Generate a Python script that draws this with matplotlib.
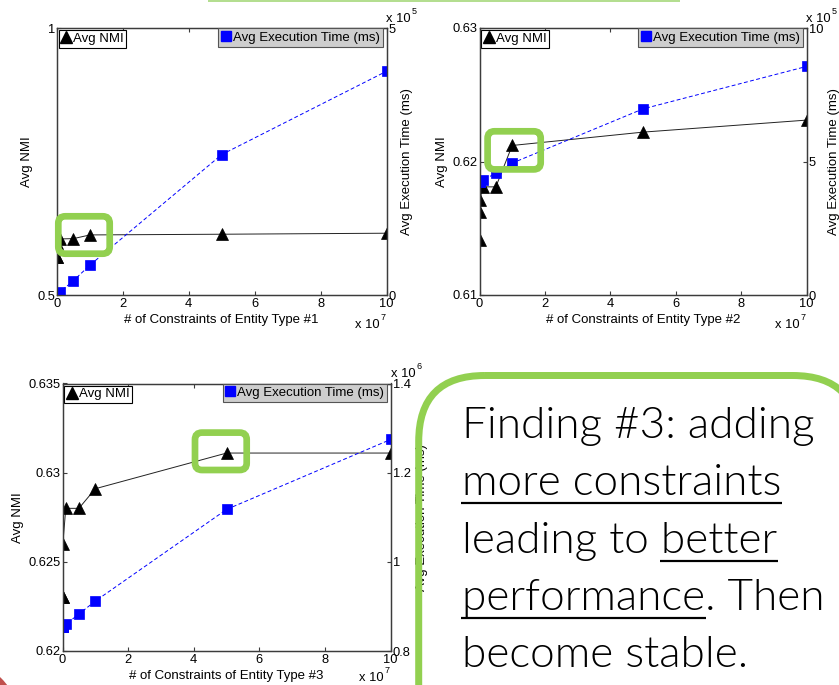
import matplotlib
matplotlib.use("Agg")
import matplotlib.pyplot as plt
from matplotlib.lines import Line2D
from matplotlib.patches import FancyBboxPatch, Rectangle, Circle

W, H, DPI = 839, 685, 100

# number of constraints used in every experiment
constraints = [1e3, 1e4, 1e5, 1e6, 5e6, 1e7, 5e7, 1e8]

nmi_type1 = [0.5707, 0.5707, 0.597, 0.605, 0.6056, 0.6125, 0.6138, 0.6157]
time_type1 = [3e3, 3e3, 3e3, 6e3, 2.7e4, 5.6e4, 2.63e5, 4.19e5]

nmi_type2 = [0.6141, 0.6162, 0.6171, 0.6181, 0.6181, 0.6212, 0.6222, 0.6231]
time_type2 = [4.22e5, 4.25e5, 4.27e5, 4.30e5, 4.56e5, 4.94e5, 6.97e5, 8.56e5]

nmi_type3 = [0.6230, 0.6230, 0.6260, 0.6280, 0.6280, 0.6291, 0.6311, 0.6311]
time_type3 = [0.8545e6, 0.8545e6, 0.8545e6, 0.8598e6, 0.8829e6, 0.912e6, 1.1176e6, 1.2745e6]

x_ticks = [0, 2e7, 4e7, 6e7, 8e7, 1e8]
x_tick_labels = ["0", "2", "4", "6", "8", "10"]

nmi_ticks = [[0.5, 1.0], [0.61, 0.62, 0.63], [0.62, 0.625, 0.63, 0.635]]
nmi_tick_labels = [["0.5", "1"], ["0.61", "0.62", "0.63"], ["0.62", "0.625", "0.63", "0.635"]]
time_ticks = [[0, 5e5], [0, 5e5, 1e6], [0.8e6, 1.0e6, 1.2e6, 1.4e6]]
time_tick_labels = [["0", "5"], ["0", "5", "10"], ["0.8", "1", "1.2", "1.4"]]
time_exponents = ["5", "5", "6"]

x_labels = ["# of Constraints of Entity Type #1",
            "# of Constraints of Entity Type #2",
            "# of Constraints of Entity Type #3"]

plt.rcParams["font.family"] = ["Liberation Sans", "DejaVu Sans"]
plt.rcParams["font.size"] = 9.5

fig = plt.figure(figsize=(W / DPI, H / DPI), dpi=DPI)
fig.patch.set_facecolor("white")

# panel frames in pixels: left, top, right, bottom
frames = [(57, 28, 386.5, 295), (479.5, 28, 806.5, 295), (62.5, 383.5, 390.7, 651)]
nmi_series = [nmi_type1, nmi_type2, nmi_type3]
time_series = [time_type1, time_type2, time_type3]

SPINE = "#3c3c3c"
BLUE = "#0000ff"
GREEN = "#92d050"

for i, (l, t, r, b) in enumerate(frames):
    ax = fig.add_axes([l / W, 1 - b / H, (r - l) / W, (b - t) / H])
    ax2 = ax.twinx()
    axw, axh = r - l, b - t

    ax.plot(constraints, nmi_series[i], color="#222222", lw=0.7,
            marker="^", ms=9, mfc="black", mec="black", mew=0.5)
    ax2.plot(constraints, time_series[i], color=BLUE, lw=0.7, ls=(0, (4, 2.5)),
             marker="s", ms=7, mfc=BLUE, mec=BLUE, mew=0.5)

    ax.set_xlim(0, 1e8)
    ax.set_ylim(nmi_ticks[i][0], nmi_ticks[i][-1])
    ax2.set_ylim(time_ticks[i][0], time_ticks[i][-1])

    ax.set_xticks(x_ticks)
    ax.set_xticklabels(x_tick_labels)
    ax.set_yticks(nmi_ticks[i])
    ax.set_yticklabels(nmi_tick_labels[i])
    ax2.set_yticks(time_ticks[i])
    ax2.set_yticklabels(time_tick_labels[i])

    ax.tick_params(axis="x", direction="in", length=3, top=True, pad=2.5,
                   labelsize=9.3, color=SPINE)
    ax.tick_params(axis="y", direction="in", length=3, pad=1.5,
                   labelsize=9.3, color=SPINE)
    ax2.tick_params(axis="y", direction="in", length=3, pad=1.5,
                    labelsize=9.3, color=SPINE)

    for a in (ax, ax2):
        for sp in a.spines.values():
            sp.set_color(SPINE)
            sp.set_linewidth(0.9)

    ax.set_xlabel(x_labels[i], fontsize=9.5, labelpad=2.5)
    ax.set_ylabel("Avg NMI", fontsize=9.5, labelpad=3)
    ax2.set_ylabel("Avg Execution Time (ms)", fontsize=9.5, labelpad=3.5)

    h_nmi = Line2D([], [], ls="none", marker="^", ms=9, mfc="black", mec="black")
    h_time = Line2D([], [], ls="none", marker="s", ms=7, mfc=BLUE, mec=BLUE)
    leg1 = ax.legend([h_nmi], ["Avg NMI"], loc="upper left",
                     bbox_to_anchor=(1.5 / axw, 1 - 2 / axh), borderaxespad=0,
                     fancybox=False, framealpha=1, facecolor="white",
                     edgecolor="black", borderpad=0.2, handlelength=0.8,
                     handletextpad=0.1, numpoints=1, fontsize=9.5)
    leg1.get_frame().set_linewidth(0.8)
    leg2 = ax2.legend([h_time], ["Avg Execution Time (ms)"], loc="upper right",
                      bbox_to_anchor=(1 - 3.5 / axw, 1.0), borderaxespad=0,
                      fancybox=False, framealpha=1, facecolor="#cecece",
                      edgecolor="#555555", borderpad=0.25, handlelength=0.6,
                      handletextpad=0.25, numpoints=1, fontsize=9.5)
    leg2.get_frame().set_linewidth(0.8)

# overlay in pixel units for slide annotations
ov = fig.add_axes([0, 0, 1, 1])
ov.set_xlim(0, W)
ov.set_ylim(H, 0)
ov.axis("off")
ov.set_zorder(10)
ov.patch.set_alpha(0)

renderer = fig.canvas.get_renderer()


def text_width(s, **kw):
    t = ov.text(0, 100, s, **kw)
    w = t.get_window_extent(renderer).width
    t.remove()
    return w


def power_label(x, y_base, exp):
    ov.text(x, y_base, "x 10", fontsize=9.3, va="baseline", ha="left")
    w = text_width("x 10", fontsize=9.3)
    ov.text(x + w + 0.8, y_base - 8, exp, fontsize=6.5, va="baseline", ha="left")


for (l, t, r, b), e in zip(frames, time_exponents):
    power_label(r, t - 6.5, e)
    power_label(r - 31.5, min(b + 33, H - 4), "7")

# highlight boxes around the points of interest
px_line = 72.0 / DPI
for (x0, y0, x1, y1) in [(58.3, 216.3, 109.7, 253.7),
                         (487.6, 131.3, 540.7, 169.4),
                         (195.0, 432.6, 246.7, 470.0)]:
    ov.add_patch(FancyBboxPatch((x0, y0), x1 - x0, y1 - y0,
                                boxstyle="round,pad=0,rounding_size=7",
                                fc="none", ec=GREEN, lw=6.7 * px_line))

# slide decorations
ov.plot([208, 680], [0.8, 0.8], color="#b4de90", lw=2 * px_line, solid_capstyle="butt")
ov.add_patch(Circle((-40, 720), 58.7, color="#c0504d", lw=0))

# callout with the finding
ov.add_patch(Rectangle((433, 380), W - 433, H - 380, fc="white", ec="none", zorder=1))
ov.add_patch(FancyBboxPatch((418.7, 375.5), 440, 400,
                            boxstyle="round,pad=0,rounding_size=66",
                            fc="none", ec=GREEN, lw=7 * px_line, zorder=2))

font_kw = dict(family=["Lato", "DejaVu Sans"], fontweight=300)
base = text_width("Finding #3: adding", fontsize=30, **font_kw)
fs = 30 * 352 / base
kw = dict(fontsize=fs, va="baseline", ha="left", zorder=3, **font_kw)

x0 = 461.7
callout = [
    ("Finding #3: adding", None),
    ("more constraints", "more constraints"),
    ("leading to better", "better"),
    ("performance. Then", "performance"),
    ("become stable.", None),
]
baselines = [438, 495, 553, 610, 667]
for (line, under), yb in zip(callout, baselines):
    ov.text(x0, yb, line, **kw)
    if under is None:
        continue
    if line.startswith(under):
        ux0 = x0
        ux1 = x0 + text_width(under, fontsize=fs, **font_kw)
    else:
        full = text_width(line, fontsize=fs, **font_kw)
        part = text_width(under, fontsize=fs, **font_kw)
        ux0 = x0 + full - part
        ux1 = x0 + full
    ov.plot([ux0 - 1, ux1 + 1], [yb + 8, yb + 8], color="black",
            lw=2.2 * px_line, zorder=3, solid_capstyle="butt")

fig.savefig("out.png", dpi=DPI)
